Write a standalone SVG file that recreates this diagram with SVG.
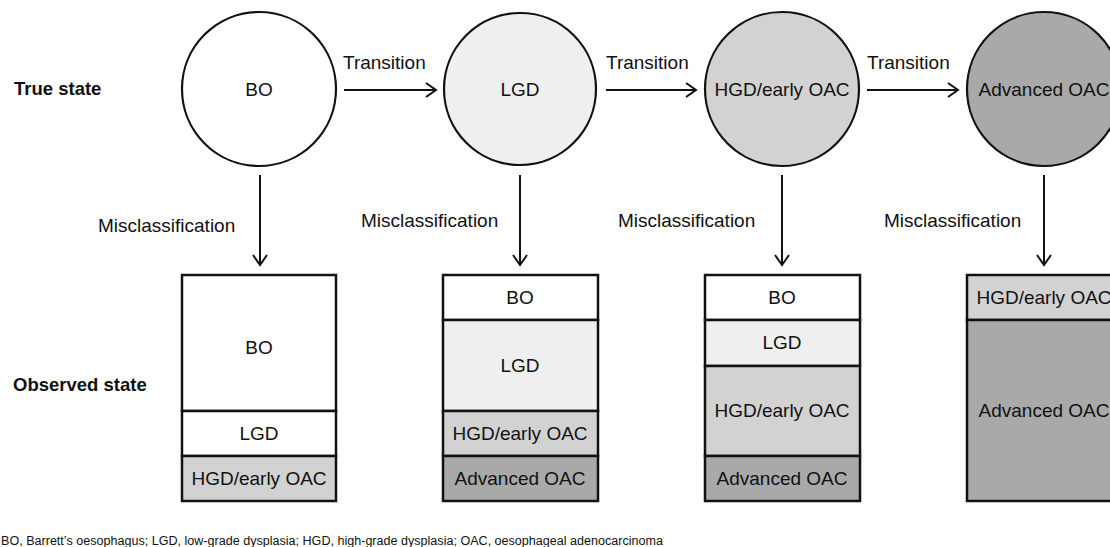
<svg xmlns="http://www.w3.org/2000/svg" width="1110" height="547" viewBox="0 0 1110 547">
<style>
text{font-family:"Liberation Sans",Arial,sans-serif;font-size:19px;fill:#111;}
.c{text-anchor:middle;}
.b{font-weight:bold;font-size:18.5px;}
.fn{font-size:12px;}
.circ{stroke:#111;stroke-width:2.2;}
.box{stroke:#111;stroke-width:2.5;}
.w{fill:#ffffff;}
.l{fill:#efefef;}
.h{fill:#d2d2d2;}
.a{fill:#a9a9a9;}
.con line{stroke:#111;stroke-width:2;fill:none;}
</style>
<defs>
<marker id="ah" markerUnits="userSpaceOnUse" markerWidth="14" markerHeight="16" refX="11" refY="8" orient="auto" viewBox="0 0 14 16">
<path d="M1,1 L11,8 L1,15" fill="none" stroke="#111" stroke-width="2"/>
</marker>
</defs>
<rect width="1110" height="547" fill="#fff"/>
<text class="b" x="14" y="95">True state</text>
<text class="b" x="13" y="391">Observed state</text>

<g id="true-bo"><circle class="circ w" cx="259" cy="89" r="77"/><text class="c" x="259" y="96">BO</text></g>
<g id="true-lgd"><circle class="circ l" cx="520" cy="89" r="76"/><text class="c" x="520" y="96">LGD</text></g>
<g id="true-hgd"><circle class="circ h" cx="782" cy="89" r="77"/><text class="c" x="782" y="96">HGD/early OAC</text></g>
<g id="true-adv"><circle class="circ a" cx="1044" cy="89" r="77"/><text class="c" x="1044" y="96">Advanced OAC</text></g>

<g id="obs-bo">
<rect class="box w" x="182" y="275" width="154" height="136"/>
<rect class="box w" x="182" y="411" width="154" height="45"/>
<rect class="box h" x="182" y="456" width="154" height="45"/>
<text class="c" x="259" y="354">BO</text>
<text class="c" x="259" y="440">LGD</text>
<text class="c" x="259" y="485">HGD/early OAC</text>
</g>
<g id="obs-lgd">
<rect class="box w" x="443" y="275" width="155" height="45"/>
<rect class="box l" x="443" y="320" width="155" height="91"/>
<rect class="box h" x="443" y="411" width="155" height="45"/>
<rect class="box a" x="443" y="456" width="155" height="45"/>
<text class="c" x="520" y="304">BO</text>
<text class="c" x="520" y="372">LGD</text>
<text class="c" x="520" y="440">HGD/early OAC</text>
<text class="c" x="520" y="485">Advanced OAC</text>
</g>
<g id="obs-hgd">
<rect class="box w" x="705" y="275" width="155" height="45"/>
<rect class="box l" x="705" y="320" width="155" height="46"/>
<rect class="box h" x="705" y="366" width="155" height="90"/>
<rect class="box a" x="705" y="456" width="155" height="45"/>
<text class="c" x="782" y="304">BO</text>
<text class="c" x="782" y="349">LGD</text>
<text class="c" x="782" y="417">HGD/early OAC</text>
<text class="c" x="782" y="485">Advanced OAC</text>
</g>
<g id="obs-adv">
<rect class="box h" x="967" y="275" width="155" height="45"/>
<rect class="box a" x="967" y="320" width="155" height="181"/>
<text class="c" x="1044" y="304">HGD/early OAC</text>
<text class="c" x="1044" y="417">Advanced OAC</text>
</g>

<g id="connectors" class="con">
<line x1="344" y1="90" x2="436" y2="90" marker-end="url(#ah)"/>
<line x1="606" y1="90" x2="696" y2="90" marker-end="url(#ah)"/>
<line x1="867" y1="90" x2="958" y2="90" marker-end="url(#ah)"/>
<line x1="260" y1="175" x2="260" y2="265" marker-end="url(#ah)"/>
<line x1="520" y1="175" x2="520" y2="265" marker-end="url(#ah)"/>
<line x1="782" y1="175" x2="782" y2="265" marker-end="url(#ah)"/>
<line x1="1044" y1="175" x2="1044" y2="265" marker-end="url(#ah)"/>
</g>
<g id="labels">
<text x="343" y="69">Transition</text>
<text x="606" y="69">Transition</text>
<text x="867" y="69">Transition</text>
<text x="98" y="232">Misclassification</text>
<text x="361" y="227">Misclassification</text>
<text x="618" y="227">Misclassification</text>
<text x="884" y="227">Misclassification</text>
</g>
<text class="fn" x="1" y="545" textLength="662" lengthAdjust="spacingAndGlyphs">BO, Barrett’s oesophagus; LGD, low-grade dysplasia; HGD, high-grade dysplasia; OAC, oesophageal adenocarcinoma</text>
</svg>
